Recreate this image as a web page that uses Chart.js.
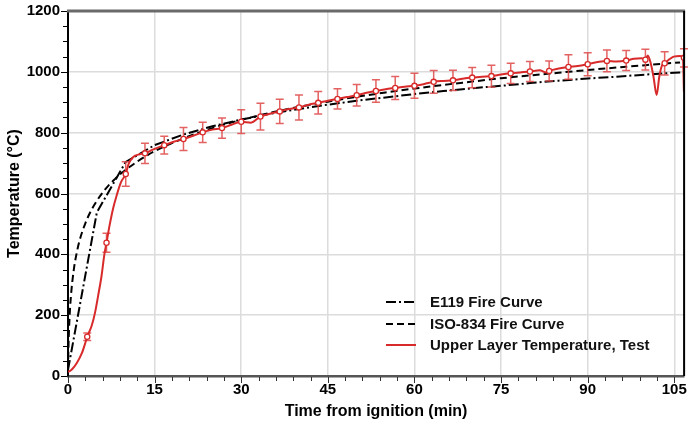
<!DOCTYPE html>
<html><head><meta charset="utf-8">
<script src="https://cdn.jsdelivr.net/npm/chart.js@4/dist/chart.umd.min.js"></script>
<style>html,body{margin:0;padding:0;background:#fff}#wrap{width:688px;height:427px}</style>
</head><body><div id="wrap"><canvas id="c" width="688" height="427"></canvas></div>
<script>
// ---- data (time in min, temperature in °C) ----
const e119Time = [0, 5, 10, 15, 20, 25, 30, 35, 40, 45, 50, 55, 60, 65, 70, 75, 80, 85, 90, 95, 100, 105, 106.7];
const e119Temp = [20, 538, 704, 759, 794, 821, 843, 862, 878, 892, 905, 916, 927, 937, 946, 954, 963, 971, 978, 984, 991, 997, 999];

const isoTime = [0, 0.1, 0.25, 0.5, 1, 1.5, 2, 3, 4, 5, 6, 7, 8, 9, 10, 12, 15, 20, 25, 30, 35, 40, 45, 50, 55, 60, 65, 70, 75, 80, 85, 90, 95, 100, 106];
const isoTemp = [20, 108, 185, 261, 349, 404, 445, 502, 544, 576, 603, 626, 645, 663, 678, 705, 739, 781, 815, 842, 865, 885, 902, 918, 932, 945, 957, 968, 979, 988, 997, 1006, 1014, 1022, 1031];

const testTime = [0, 0.3, 0.7, 1.5, 2.4, 3.1, 3.33, 4.1, 4.7, 5.2, 5.8, 6.3, 6.67, 7.2, 7.8, 8.4, 9.2, 10, 10.5, 11.3, 12.4, 13.33, 14.7, 16.67, 18.3, 20, 21.7, 23.33, 25, 26.67, 28.3, 30, 31.7, 33.33, 35, 36.67, 38.3, 40, 41.7, 43.33, 45, 46.67, 48.3, 50, 51.7, 53.33, 55, 56.67, 58.3, 60, 61.7, 63.33, 65, 66.67, 68.3, 70, 71.7, 73.33, 75, 76.67, 78.3, 80, 81.7, 82.8, 83.33, 85, 86.67, 88.3, 90, 91.7, 93.33, 95, 96.67, 98, 99.3, 100, 100.4, 100.9, 101.4, 101.95, 102.4, 102.9, 103.33, 104.2, 104.9, 106, 106.5, 106.67];
const testTemp = [14, 16, 22, 42, 75, 115, 129, 165, 210, 262, 328, 400, 438, 495, 550, 592, 638, 664, 697, 720, 729, 732, 744, 759, 770, 779, 790, 801, 810, 815, 826, 836, 833, 853, 862, 870, 878, 883, 892, 898, 905, 911, 917, 923, 931, 937, 943, 947, 951, 954, 960, 967, 970, 972, 977, 981, 984, 986, 991, 995, 998, 1001, 1005, 998, 1003, 1011, 1016, 1019, 1025, 1032, 1036, 1034, 1037, 1043, 1045, 1040, 1054, 1030, 984, 924, 984, 1022, 1028, 1042, 1050, 1052, 1046, 935];

const markerTime = [3.33, 6.67, 10, 13.33, 16.67, 20, 23.33, 26.67, 30, 33.33, 36.67, 40, 43.33, 46.67, 50, 53.33, 56.67, 60, 63.33, 66.67, 70, 73.33, 76.67, 80, 83.33, 86.67, 90, 93.33, 96.67, 100, 103.33, 106.67];
const markerTemp = [129, 438, 664, 732, 759, 779, 801, 815, 836, 853, 870, 883, 898, 911, 923, 937, 947, 954, 967, 972, 981, 986, 995, 1001, 1003, 1016, 1025, 1036, 1037, 1040, 1028, 1046];
const markerErr  = [12, 31, 40, 33, 29, 38, 33, 33, 39, 44, 40, 41, 37, 33, 35, 37, 38, 41, 37, 33, 33, 36, 33, 33, 33, 40, 38, 36, 33, 34, 38, 30];

const xTicksMajor = [0, 15, 30, 45, 60, 75, 90, 105];
const yTicksMajor = [0, 200, 400, 600, 800, 1000, 1200];

const legendLabels = ['E119 Fire Curve', 'ISO-834 Fire Curve', 'Upper Layer Temperature, Test'];

const RED = '#d82a2a';
const ERR = 'rgba(222,70,70,0.85)';
const FONT = '"Liberation Sans", Arial, Helvetica, sans-serif';

const zip = (a, b) => a.map((x, i) => ({x: x, y: b[i]}));

const dashE119 = [10, 3, 2, 3];
const dashISO = [7, 4];

const errorBars = {
  id: 'errorBars',
  beforeDatasetDraw(chart, args) {
    if (args.index !== 1) return;
    const {ctx, scales: {x, y}} = chart;
    ctx.save();
    ctx.strokeStyle = ERR;
    ctx.lineWidth = 1.5;
    markerTime.forEach((t, i) => {
      const px = x.getPixelForValue(t);
      const top = y.getPixelForValue(markerTemp[i] + markerErr[i]);
      const bot = y.getPixelForValue(markerTemp[i] - markerErr[i]);
      ctx.beginPath();
      ctx.moveTo(px, top); ctx.lineTo(px, bot);
      ctx.moveTo(px - 4, top); ctx.lineTo(px + 4, top);
      ctx.moveTo(px - 4, bot); ctx.lineTo(px + 4, bot);
      ctx.stroke();
    });
    ctx.restore();
  }
};

const frame = {
  id: 'frame',
  afterDraw(chart) {
    const {ctx, chartArea: a, scales: {x, y}} = chart;
    ctx.save();
    ctx.strokeStyle = '#000';
    ctx.lineWidth = 1;
    for (let v = 0; v <= 1200; v += 50) {
      const py = Math.round(y.getPixelForValue(v)) + 0.5;
      const len = v % 200 === 0 ? 6 : 4;
      ctx.beginPath(); ctx.moveTo(a.left - 1, py); ctx.lineTo(a.left - 1 - len, py); ctx.stroke();
    }
    ctx.strokeStyle = '#333';
    for (let v = 0; v <= 106; v += 3) {
      const px = Math.round(x.getPixelForValue(v)) + 0.5;
      const len = v % 15 === 0 ? 6 : 4;
      ctx.beginPath(); ctx.moveTo(px, a.bottom + 1); ctx.lineTo(px, a.bottom + 1 + len); ctx.stroke();
    }
    ctx.strokeStyle = '#6a6a6a';
    ctx.lineWidth = 3;
    ctx.beginPath(); ctx.moveTo(a.left - 1, a.top); ctx.lineTo(a.right + 1, a.top); ctx.stroke();
    ctx.strokeStyle = '#000';
    ctx.lineWidth = 2;
    ctx.beginPath(); ctx.moveTo(a.right, a.top); ctx.lineTo(a.right, a.bottom); ctx.stroke();
    const ds = chart.data.datasets;
    const items = [ds[3], ds[2], ds[1]];
    const x0 = 386, x1 = 416, tx = 430;
    const rows = [302, 324, 345];
    ctx.font = 'bold 15px ' + FONT;
    ctx.textBaseline = 'middle';
    ctx.textAlign = 'left';
    items.forEach((d, i) => {
      ctx.strokeStyle = d.borderColor;
      ctx.lineWidth = 2;
      ctx.setLineDash(d.borderDash || []);
      ctx.beginPath(); ctx.moveTo(x0, rows[i]); ctx.lineTo(x1, rows[i]); ctx.stroke();
      ctx.setLineDash([]);
      ctx.fillStyle = '#111';
      ctx.fillText(legendLabels[i], tx, rows[i] + 1);
    });
    ctx.restore();
  }
};

new Chart(document.getElementById('c'), {
  type: 'line',
  data: {
    datasets: [
      {label: 'markers', data: zip(markerTime, markerTemp), showLine: false, pointRadius: 2.6, pointHoverRadius: 2.6,
       pointBackgroundColor: '#fff', pointBorderColor: RED, pointBorderWidth: 1.3, borderColor: RED, order: 0},
      {label: legendLabels[2], data: zip(testTime, testTemp), borderColor: RED, borderWidth: 2, pointRadius: 0,
       cubicInterpolationMode: 'monotone', order: 1},
      {label: legendLabels[1], data: zip(isoTime, isoTemp), borderColor: '#000', borderWidth: 2, borderDash: dashISO,
       pointRadius: 0, cubicInterpolationMode: 'monotone', order: 2},
      {label: legendLabels[0], data: zip(e119Time, e119Temp), borderColor: '#000', borderWidth: 2, borderDash: dashE119,
       pointRadius: 0, tension: 0, order: 3}
    ]
  },
  options: {
    responsive: false,
    animation: false,
    devicePixelRatio: 1,
    layout: {padding: {top: 11, right: 1, left: 0, bottom: 0}},
    plugins: {legend: {display: false}, tooltip: {enabled: false}},
    scales: {
      x: {
        type: 'linear', min: 0, max: 106.7,
        afterFit: s => { s.height = 51; s.paddingLeft = 0; s.paddingRight = 0; },
        afterBuildTicks: s => { s.ticks = xTicksMajor.map(v => ({value: v})); },
        ticks: {font: {family: FONT, size: 15, weight: 'bold'}, color: '#000', padding: 5,
                callback: v => String(v), maxRotation: 0, autoSkip: false},
        grid: {color: '#dcdcdc', lineWidth: 1.5, drawTicks: false},
        border: {color: '#555', width: 2.5},
        title: {display: true, text: 'Time from ignition (min)', color: '#000',
                font: {family: FONT, size: 16, weight: 'bold'}, padding: {top: 0, bottom: 6}}
      },
      y: {
        min: 0, max: 1200,
        afterFit: s => { s.width = 68; s.paddingTop = 0; s.paddingBottom = 0; },
        afterBuildTicks: s => { s.ticks = yTicksMajor.map(v => ({value: v})); },
        ticks: {font: {family: FONT, size: 15, weight: 'bold'}, color: '#000', padding: 8,
                callback: v => String(v)},
        grid: {color: '#dcdcdc', lineWidth: 1.5, drawTicks: false},
        border: {color: '#000', width: 2},
        title: {display: true, text: 'Temperature (°C)', color: '#000',
                font: {family: FONT, size: 16, weight: 'bold'}, padding: {top: 5, bottom: 0}}
      }
    }
  },
  plugins: [errorBars, frame]
});
</script>
</body></html>
